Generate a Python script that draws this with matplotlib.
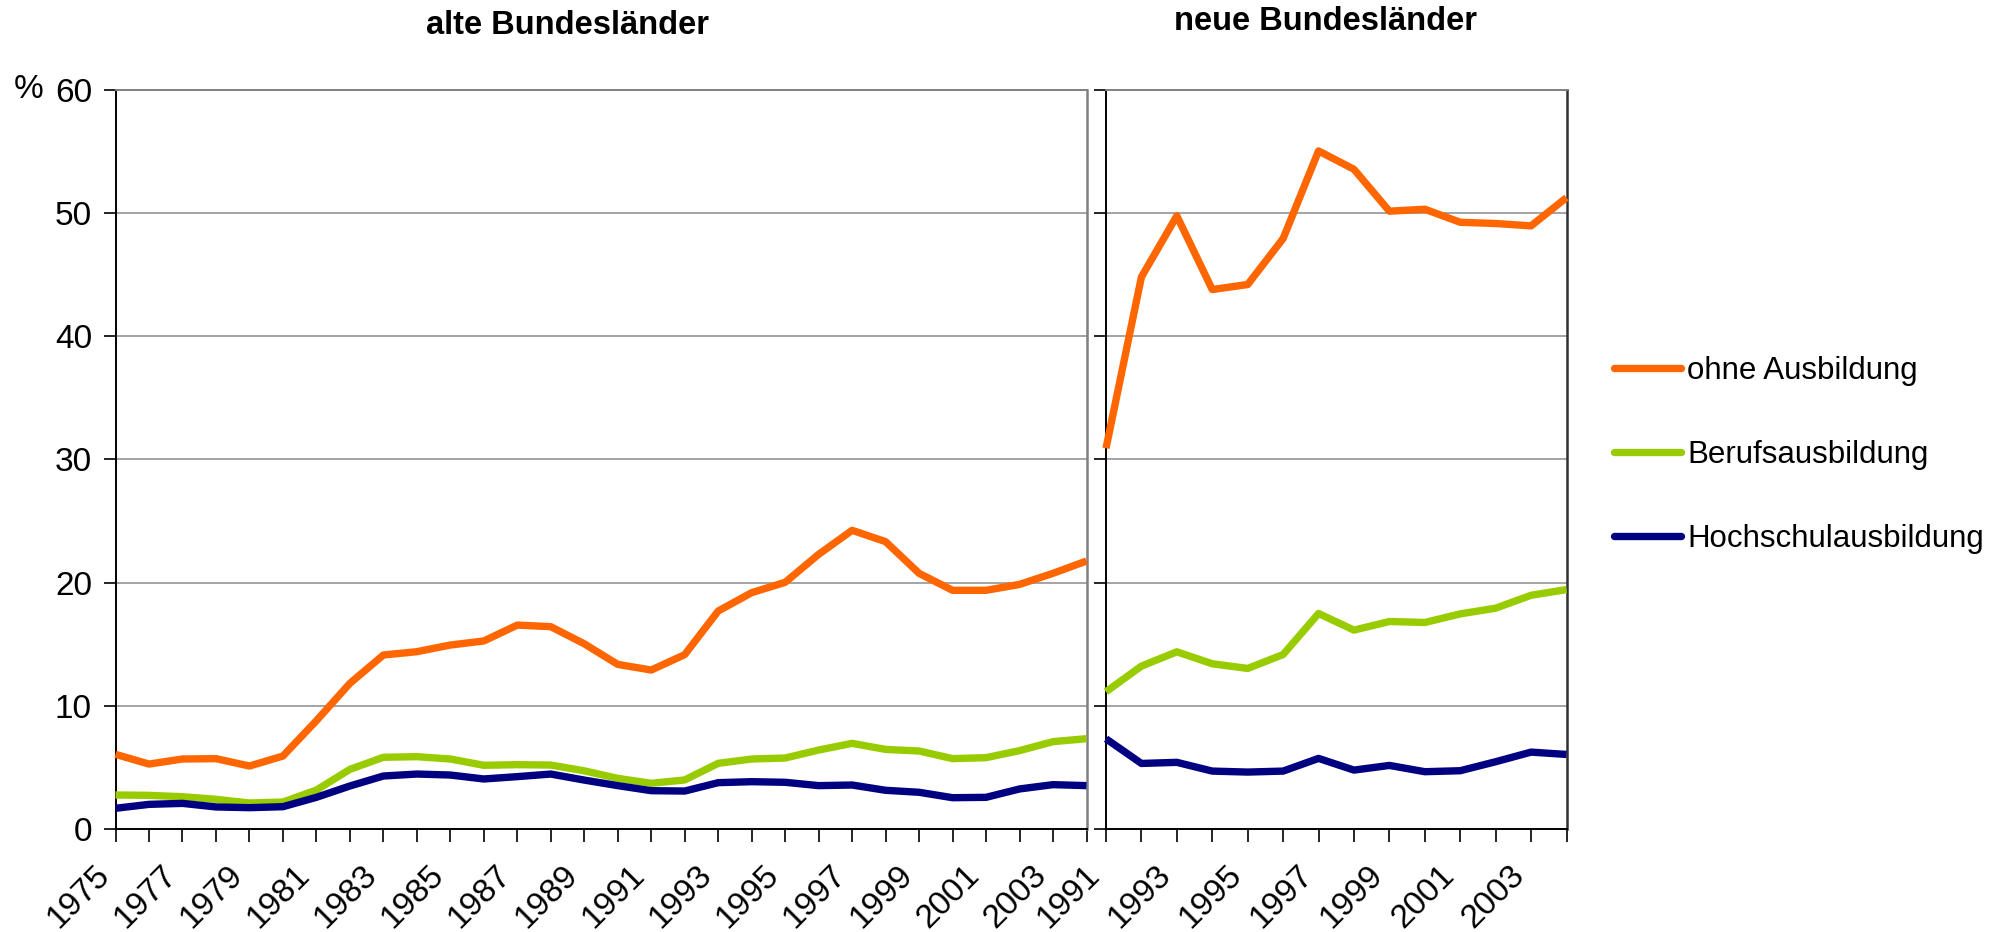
import matplotlib
matplotlib.use("Agg")
import matplotlib.pyplot as plt
from matplotlib.lines import Line2D

plt.rcParams['font.family'] = ['Liberation Sans', 'DejaVu Sans']

#DATA
years_west = list(range(1975, 2005))
years_east = list(range(1991, 2005))

west_ohne = [6.06, 5.27, 5.68, 5.71, 5.11, 5.92, 8.79, 11.82, 14.12, 14.39,
             14.93, 15.26, 16.55, 16.42, 15.03, 13.36, 12.9, 14.15, 17.69, 19.18,
             20.02, 22.29, 24.24, 23.32, 20.75, 19.37, 19.37, 19.85, 20.75, 21.75]
west_beruf = [2.76, 2.73, 2.62, 2.41, 2.11, 2.19, 3.16, 4.84, 5.82, 5.87,
              5.68, 5.17, 5.22, 5.19, 4.72, 4.11, 3.71, 3.98, 5.33, 5.68,
              5.76, 6.41, 6.95, 6.46, 6.33, 5.71, 5.79, 6.36, 7.09, 7.33]
west_hoch = [1.68, 2.0, 2.08, 1.79, 1.73, 1.81, 2.57, 3.49, 4.30, 4.46,
             4.38, 4.06, 4.25, 4.46, 3.97, 3.52, 3.11, 3.08, 3.76, 3.84,
             3.79, 3.52, 3.57, 3.14, 2.98, 2.54, 2.57, 3.25, 3.60, 3.52]

east_ohne = [30.9, 44.8, 49.76, 43.78, 44.19, 47.92, 55.03, 53.54, 50.14, 50.3,
             49.24, 49.14, 48.95, 51.24]
east_beruf = [11.14, 13.22, 14.38, 13.41, 13.03, 14.16, 17.49, 16.14, 16.84, 16.76,
              17.46, 17.92, 18.97, 19.43]
east_hoch = [7.32, 5.32, 5.41, 4.70, 4.62, 4.70, 5.73, 4.78, 5.16, 4.65,
             4.73, 5.46, 6.24, 6.05]

labels = ["ohne Ausbildung", "Berufsausbildung", "Hochschulausbildung"]
colors = ["#FF6600", "#99CC00", "#000080"]

W, H = 2009, 932
LW = 5.3
fig = plt.figure(figsize=(W / 100, H / 100), dpi=100)

ax1 = fig.add_axes([115.5 / W, 103 / H, 971 / W, 739.3 / H])
ax2 = fig.add_axes([1106 / W, 103 / H, 460.5 / W, 739.3 / H])


def style_axes(ax, years, right_color, show_ylabels):
    ax.set_xlim(years[0], years[-1])
    ax.set_ylim(0, 60)
    ax.set_yticks(range(0, 61, 10))
    ax.set_xticks(years)
    ax.set_xticklabels([str(y) if y % 2 == 1 else "" for y in years],
                       rotation=45, ha="right", va="top")
    ax.tick_params(axis="x", direction="out", length=9, width=1.2,
                   pad=13, labelsize=24, color="black")
    ax.tick_params(axis="y", direction="out", length=9, width=1.2,
                   pad=8, labelsize=24, color="black", labelleft=show_ylabels)
    ax.grid(axis="y", color="#8c8c8c", linewidth=1.1)
    ax.set_axisbelow(True)
    ax.spines["left"].set_color("black")
    ax.spines["left"].set_linewidth(1.4)
    ax.spines["bottom"].set_color("black")
    ax.spines["bottom"].set_linewidth(1.4)
    ax.spines["top"].set_color("#808080")
    ax.spines["top"].set_linewidth(1.4)
    ax.spines["right"].set_color(right_color)
    ax.spines["right"].set_linewidth(1.8)


style_axes(ax1, years_west, "#808080", True)
style_axes(ax2, years_east, "#303030", False)

for series, c in zip([west_ohne, west_beruf, west_hoch], colors):
    ax1.plot(years_west, series, color=c, linewidth=LW, clip_on=False,
             solid_capstyle="butt", solid_joinstyle="round", zorder=3)
for series, c in zip([east_ohne, east_beruf, east_hoch], colors):
    ax2.plot(years_east, series, color=c, linewidth=LW, clip_on=False,
             solid_capstyle="butt", solid_joinstyle="round", zorder=3)

#TITLES
fig.text(568 / W, 1 - 26 / H, "alte Bundesländer", fontsize=23.5,
         fontweight="bold", ha="center", va="center")
fig.text(1326 / W, 1 - 21 / H, "neue Bundesländer", fontsize=23.5,
         fontweight="bold", ha="center", va="center")
fig.text(29 / W, 1 - 90 / H, "%", fontsize=24, ha="center", va="center")

#LEGEND
handles = [Line2D([0], [0], color=c, linewidth=LW, solid_capstyle="round")
           for c in colors]
fig.legend(handles, labels, loc="center left",
           bbox_to_anchor=(1614 / W, 1 - 455 / H), frameon=False,
           fontsize=22.5, handlelength=2.15, handletextpad=0.2,
           labelspacing=1.72, borderpad=0, borderaxespad=0)

fig.savefig("out.png", dpi=100)
